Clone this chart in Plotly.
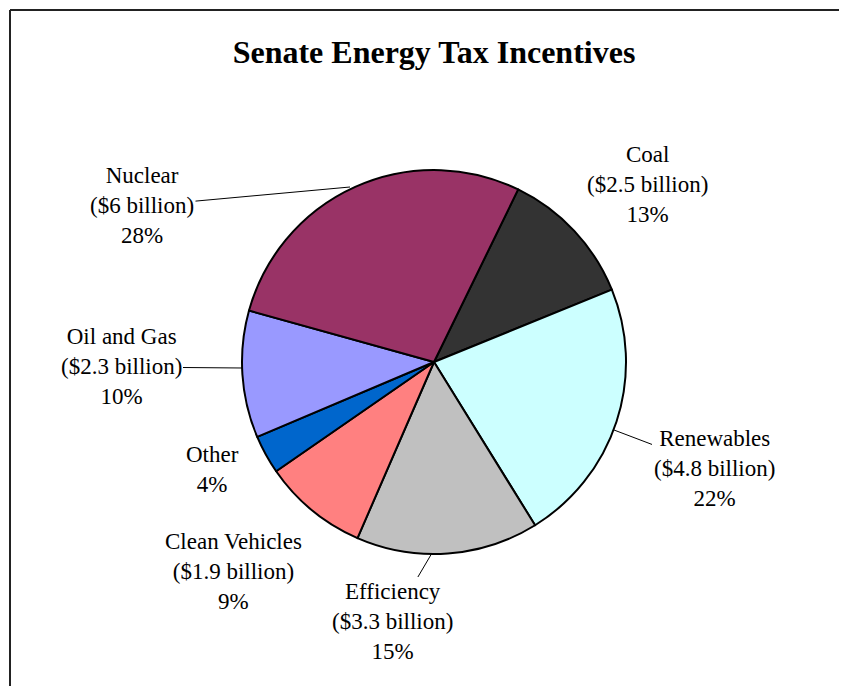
import plotly.graph_objects as go

categories = ["Coal", "Renewables", "Efficiency", "Clean Vehicles", "Other", "Oil and Gas", "Nuclear"]
values_billion = [2.5, 4.8, 3.3, 1.9, 0.7, 2.3, 6.0]
amount_labels = ["($2.5 billion)", "($4.8 billion)", "($3.3 billion)", "($1.9 billion)", "", "($2.3 billion)", "($6 billion)"]
pct_labels = ["13%", "22%", "15%", "9%", "4%", "10%", "28%"]
colors = ["#333333", "#CCFFFF", "#C0C0C0", "#FF8080", "#0066CC", "#9999FF", "#993366"]

W, H = 847, 686
OFF = 8  # page offset of the figure inside the browser window
FONT = "Liberation Serif"


def px(x):
    return (x - OFF) / W


def py(y):
    return 1 - (y - OFF) / H


CX, CY, R = 434, 362, 192

fig = go.Figure()
fig.add_trace(go.Pie(
    labels=categories,
    values=values_billion,
    sort=False,
    direction="clockwise",
    rotation=26,
    marker=dict(colors=colors, line=dict(color="black", width=2)),
    textinfo="none",
    hoverinfo="label+value+percent",
    showlegend=False,
    domain=dict(x=[px(CX - R), px(CX + R)], y=[py(CY + R), py(CY - R)]),
))

# label placement: (text center px, leader tip px or None)
label_pos = {
    "Coal": ((647, 184), None),
    "Renewables": ((714, 468), (614, 430)),
    "Efficiency": ((392, 621), (432, 553)),
    "Clean Vehicles": ((233, 571), None),
    "Other": ((212, 469), None),
    "Oil and Gas": ((121, 367), (243, 368)),
    "Nuclear": ((142, 206), (350, 187)),
}

for cat, amt, pct in zip(categories, amount_labels, pct_labels):
    lines = [cat] + ([amt] if amt else []) + [pct]
    text = "<br>".join(lines)
    (cx, cy), tip = label_pos[cat]
    if tip is None:
        fig.add_annotation(x=px(cx), y=py(cy), xref="paper", yref="paper",
                           text=text, showarrow=False, align="center",
                           xanchor="center", yanchor="middle",
                           font=dict(family=FONT, size=23, color="black"))
    else:
        tx, ty = tip
        fig.add_annotation(x=px(tx), y=py(ty), xref="paper", yref="paper",
                           text=text, showarrow=True, arrowhead=0, arrowwidth=1,
                           arrowcolor="black", ax=cx - tx, ay=cy - ty, align="center",
                           font=dict(family=FONT, size=23, color="black"))

# frame
fig.add_shape(type="line", xref="paper", yref="paper", x0=px(10), x1=1.0, y0=py(10), y1=py(10),
              line=dict(color="#222222", width=2))
fig.add_shape(type="line", xref="paper", yref="paper", x0=px(10), x1=px(10), y0=py(10), y1=0,
              line=dict(color="#222222", width=2))

fig.update_layout(
    width=W, height=H,
    margin=dict(l=0, r=0, t=0, b=0),
    paper_bgcolor="white", plot_bgcolor="white",
    title=dict(text="<b>Senate Energy Tax Incentives</b>", x=px(434), y=py(52),
               xanchor="center", yanchor="middle",
               font=dict(family=FONT, size=32, color="black")),
)

fig.write_html("out.html")
